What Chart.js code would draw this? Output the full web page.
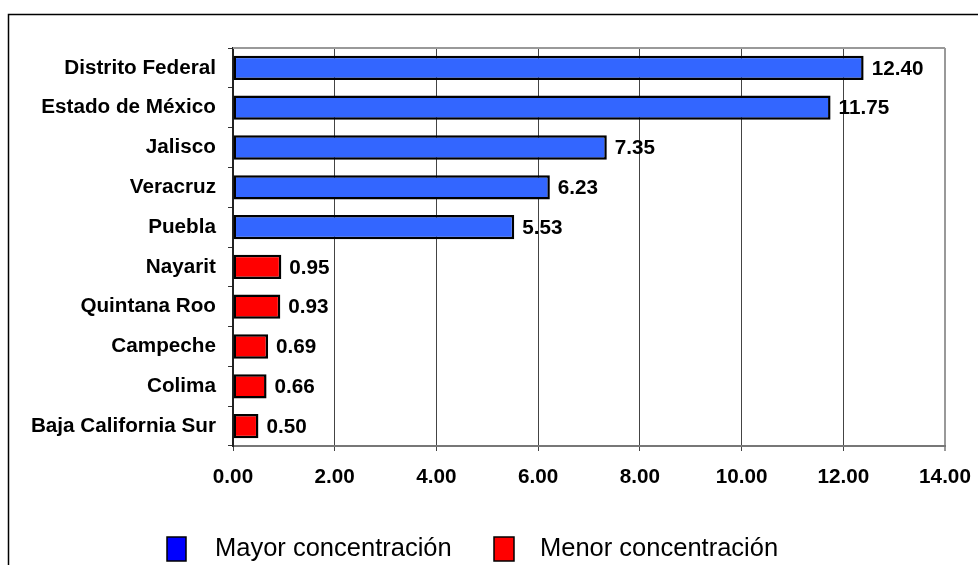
<!DOCTYPE html>
<html>
<head>
<meta charset="utf-8">
<script src="https://cdn.jsdelivr.net/npm/chart.js@4.4.1/dist/chart.umd.min.js"></script>
<style>
  html, body { margin: 0; padding: 0; background: #fff; }
  #wrap { width: 978px; height: 565px; }
</style>
</head>
<body>
<div id="wrap"><canvas id="c" width="978" height="565"></canvas></div>
<script>
Chart.defaults.font.family = '"Liberation Sans", Arial, sans-serif';
Chart.defaults.color = '#000';

// states, top five (mayor) then bottom five (menor)
const STATES = ['Distrito Federal', 'Estado de México', 'Jalisco', 'Veracruz', 'Puebla',
  'Nayarit', 'Quintana Roo', 'Campeche', 'Colima', 'Baja California Sur'];
const MAYOR = [12.40, 11.75, 7.35, 6.23, 5.53, null, null, null, null, null];
const MENOR = [null, null, null, null, null, 0.95, 0.93, 0.69, 0.66, 0.50];
const SERIES = ['Mayor concentración', 'Menor concentración'];
const X_TICKS = { min: 0, max: 14, step: 2 };

const BAR_COLORS = ['#3366ff', '#ff0000'];
const LEGEND_COLORS = ['#0000ff', '#ff0000'];
const FONT = '"Liberation Sans", Arial, sans-serif';

// value labels just past the end of each bar
const valueLabels = {
  id: 'valueLabels',
  afterDatasetsDraw(chart) {
    const ctx = chart.ctx;
    ctx.save();
    ctx.font = 'bold 20.7px ' + FONT;
    ctx.fillStyle = '#000';
    ctx.textAlign = 'left';
    ctx.textBaseline = 'middle';
    chart.data.datasets.forEach((ds, di) => {
      chart.getDatasetMeta(di).data.forEach((el, i) => {
        const v = ds.data[i];
        if (v == null) return;
        ctx.fillText(v.toFixed(2), el.x + 8, el.y + 1);
      });
    });
    ctx.restore();
  }
};

// outer frame, plot-area top edge and the legend at the bottom
const frame = {
  id: 'frame',
  beforeDraw(chart) {
    const ctx = chart.ctx;
    ctx.save();
    ctx.fillStyle = '#fff';
    ctx.fillRect(0, 0, chart.width, chart.height);
    ctx.strokeStyle = '#000';
    ctx.lineWidth = 1.5;
    ctx.strokeRect(8.5, 14.5, chart.width + 10, chart.height + 10);
    ctx.restore();
  },
  afterDraw(chart) {
    const ctx = chart.ctx, a = chart.chartArea;
    ctx.save();
    ctx.strokeStyle = '#999';
    ctx.lineWidth = 2;
    ctx.beginPath();
    ctx.moveTo(a.left, a.top);
    ctx.lineTo(a.right, a.top);
    ctx.stroke();

    const boxes = [[167, 19], [494, 20]], texts = [215, 540];
    ctx.font = '25.5px ' + FONT;
    ctx.textBaseline = 'middle';
    SERIES.forEach((s, i) => {
      ctx.fillStyle = LEGEND_COLORS[i];
      ctx.fillRect(boxes[i][0], 537, boxes[i][1], 24);
      ctx.strokeStyle = '#000';
      ctx.lineWidth = 1.5;
      ctx.strokeRect(boxes[i][0], 537, boxes[i][1], 24);
      ctx.fillStyle = '#000';
      ctx.fillText(s, texts[i], 549);
    });
    ctx.restore();
  }
};

new Chart(document.getElementById('c'), {
  type: 'bar',
  data: {
    labels: STATES,
    datasets: [MAYOR, MENOR].map((d, i) => ({
      label: SERIES[i],
      data: d,
      backgroundColor: BAR_COLORS[i],
      borderColor: '#000',
      borderWidth: 2.5,
      borderSkipped: false,
      barPercentage: 0.61,
      categoryPercentage: 1,
    })),
  },
  options: {
    indexAxis: 'y',
    responsive: false,
    animation: false,
    events: [],
    layout: { padding: { left: 8, top: 48, right: 33, bottom: 59 } },
    plugins: { legend: { display: false }, tooltip: { enabled: false } },
    scales: {
      x: {
        min: X_TICKS.min, max: X_TICKS.max, stacked: true,
        afterFit: s => { s.height = 60; s.paddingLeft = 0; s.paddingRight = 0; },
        ticks: {
          stepSize: X_TICKS.step, padding: 14,
          font: { size: 20.7, weight: 'bold' },
          callback: v => v.toFixed(2),
        },
        grid: {
          color: c => (c.tick && c.tick.value === X_TICKS.max ? '#999' : '#444'),
          lineWidth: c => (c.tick && c.tick.value === X_TICKS.max ? 2 : 1),
          tickLength: 5,
        },
        border: { color: '#777', width: 2 },
      },
      y: {
        stacked: true,
        afterFit: s => { s.width = 225; },
        ticks: { padding: 12, font: { size: 20.7, weight: 'bold' } },
        grid: { drawOnChartArea: false, offset: true, tickLength: 5, color: '#333' },
        border: { color: '#222', width: 2 },
      },
    },
  },
  plugins: [valueLabels, frame],
});
</script>
</body>
</html>
